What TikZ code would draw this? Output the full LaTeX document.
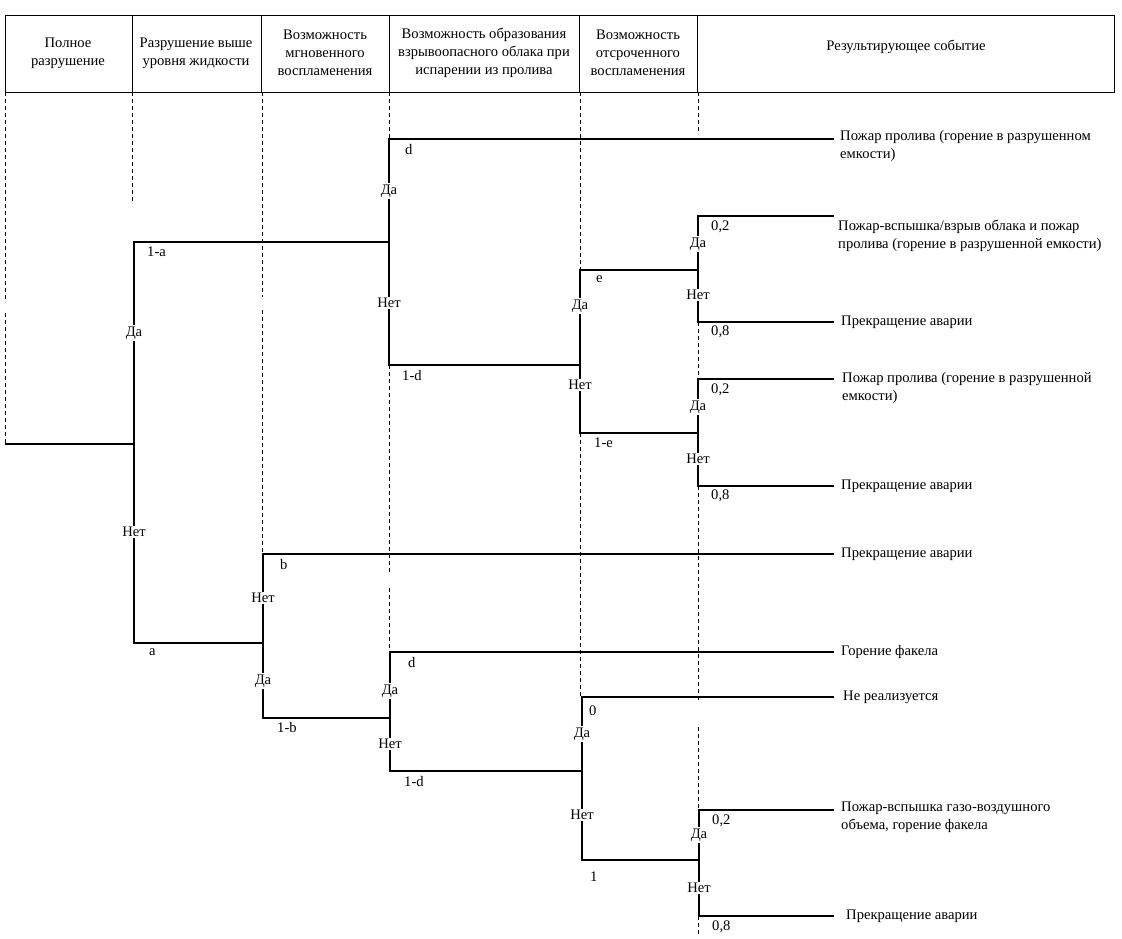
\documentclass[tikz,border=0pt]{standalone}
\usepackage{fontspec}
\setmainfont{Liberation Serif}
\usetikzlibrary{positioning}
\begin{document}
\begin{tikzpicture}[x=1pt,y=-1pt,font=\fontsize{14.6}{18}\selectfont,
    frame/.style={line width=0.8pt},
    guide/.style={line width=0.6pt,dash pattern=on 4pt off 3pt},
    branch/.style={line width=2pt,line join=miter},
    head/.style={align=center,inner sep=0pt},
    yn/.style={fill=white,inner sep=1.5pt},
    prob/.style={inner sep=0pt},
    outcome/.style={align=left,inner sep=0pt}]
    \useasboundingbox (0,0) rectangle (1122,938);
    \draw[frame] (5,15) rectangle (1114,92);
    \foreach \x in {132,261,389,579,697} \draw[frame] (\x,15) -- (\x,92);
    \node[head] (h1) at (68,53) {Полное\\разрушение};
    \node[head] (h2) at (196,53) {Разрушение выше\\уровня жидкости};
    \node[head] (h3) at (325,53) {Возможность\\мгновенного\\воспламенения};
    \node[head] (h4) at (484,53) {Возможность образования\\взрывоопасного облака при\\испарении из пролива};
    \node[head] (h5) at (638,53) {Возможность\\отсроченного\\воспламенения};
    \node[head] (h6) at (906,47) {Результирующее событие};
    \foreach \x/\ya/\yb in {5/92/300,5/313/444,132/92/203,262/92/297,262/310/554,389/92/139,389/365/573,389/588/652,580/92/270,580/433/697,698/92/132,698/322/379,698/486/700,698/727/810,698/916/935}
        \draw[guide] (\x,\ya) -- (\x,\yb);
    \coordinate (s) at (5,444);
    \coordinate (A) at (134,444); \coordinate (A1) at (134,242); \coordinate (A2) at (134,643);
    \coordinate (B) at (389,242); \coordinate (B1) at (389,139); \coordinate (B2) at (389,365);
    \coordinate (C) at (580,365); \coordinate (C1) at (580,270); \coordinate (C2) at (580,433);
    \coordinate (D) at (698,270); \coordinate (D1) at (698,216); \coordinate (D2) at (698,322);
    \coordinate (E) at (698,433); \coordinate (E1) at (698,379); \coordinate (E2) at (698,486);
    \coordinate (F) at (263,643); \coordinate (F1) at (263,554); \coordinate (F2) at (263,718);
    \coordinate (G) at (390,718); \coordinate (G1) at (390,652); \coordinate (G2) at (390,771);
    \coordinate (H) at (582,771); \coordinate (H1) at (582,697); \coordinate (H2) at (582,860);
    \coordinate (K) at (699,860); \coordinate (K1) at (699,810); \coordinate (K2) at (699,916);
    \foreach \n/\y in {t1/139,t2/216,t3/322,t4/379,t5/486,t6/554,t7/652,t8/697,t9/810,t10/916}
        \coordinate (\n) at (834,\y);
    \draw[branch] (s) -- (A);
    \draw[branch] (B) -- (A1) -- (A2) -- (F);
    \draw[branch] (t1) -- (B1) -- (B2) -- (C);
    \draw[branch] (D) -- (C1) -- (C2) -- (E);
    \draw[branch] (t2) -- (D1) -- (D2) -- (t3);
    \draw[branch] (t4) -- (E1) -- (E2) -- (t5);
    \draw[branch] (t6) -- (F1) -- (F2) -- (G);
    \draw[branch] (t7) -- (G1) -- (G2) -- (H);
    \draw[branch] (t8) -- (H1) -- (H2) -- (K);
    \draw[branch] (t9) -- (K1) -- (K2) -- (t10);
    \foreach \n/\x/\y/\t in {yA/134/333/Да,nA/134/532/Нет,yB/389/191/Да,nB/389/303/Нет,yC/580/306/Да,nC/580/385/Нет,yD/698/244/Да,nD/698/295/Нет,yE/698/407/Да,nE/698/459/Нет,nF/263/598/Нет,yF/263/681/Да,yG/390/691/Да,nG/390/744/Нет,yH/582/734/Да,nH/582/815/Нет,yK/699/835/Да,nK/699/888/Нет}
        \node[yn] (\n) at (\x,\y) {\t};
    \node[prob,below right=5pt and 13pt of A1] (pA1) {1-a};
    \node[prob,below right=5pt and 15pt of A2] (pA2) {a};
    \node[prob,below right=5pt and 16pt of B1] (pB1) {d};
    \node[prob,below right=5pt and 13pt of B2] (pB2) {1-d};
    \node[prob,below right=5pt and 16pt of C1] (pC1) {e};
    \node[prob,below right=5pt and 14pt of C2] (pC2) {1-e};
    \node[prob,below right=5pt and 13pt of D1] (pD1) {0,2};
    \node[prob,below right=4pt and 13pt of D2] (pD2) {0,8};
    \node[prob,below right=5pt and 13pt of E1] (pE1) {0,2};
    \node[prob,below right=4pt and 13pt of E2] (pE2) {0,8};
    \node[prob,below right=5pt and 17pt of F1] (pF1) {b};
    \node[prob,below right=4pt and 14pt of F2] (pF2) {1-b};
    \node[prob,below right=5pt and 18pt of G1] (pG1) {d};
    \node[prob,below right=5pt and 14pt of G2] (pG2) {1-d};
    \node[prob,below right=9pt and 7pt of H1] (pH1) {0};
    \node[prob,below right=12pt and 8pt of H2] (pH2) {1};
    \node[prob,below right=5pt and 13pt of K1] (pK1) {0,2};
    \node[prob,below right=5pt and 13pt of K2] (pK2) {0,8};
    \node[outcome,anchor=north west] (o1) at (840,130) {Пожар пролива (горение в разрушенном\\емкости)};
    \node[outcome,anchor=north west] (o2) at (838,220) {Пожар-вспышка/взрыв облака и пожар\\пролива (горение в разрушенной емкости)};
    \node[outcome,right=7pt of t3] (o3) {Прекращение аварии};
    \node[outcome,anchor=north west] (o4) at (842,372) {Пожар пролива (горение в разрушенной\\емкости)};
    \node[outcome,right=7pt of t5] (o5) {Прекращение аварии};
    \node[outcome,right=7pt of t6] (o6) {Прекращение аварии};
    \node[outcome,right=7pt of t7] (o7) {Горение факела};
    \node[outcome,right=9pt of t8] (o8) {Не реализуется};
    \node[outcome,anchor=north west] (o9) at (841,802) {Пожар-вспышка газо-воздушного\\объема, горение факела};
    \node[outcome,right=12pt of t10] (o10) {Прекращение аварии};
\end{tikzpicture}
\end{document}
